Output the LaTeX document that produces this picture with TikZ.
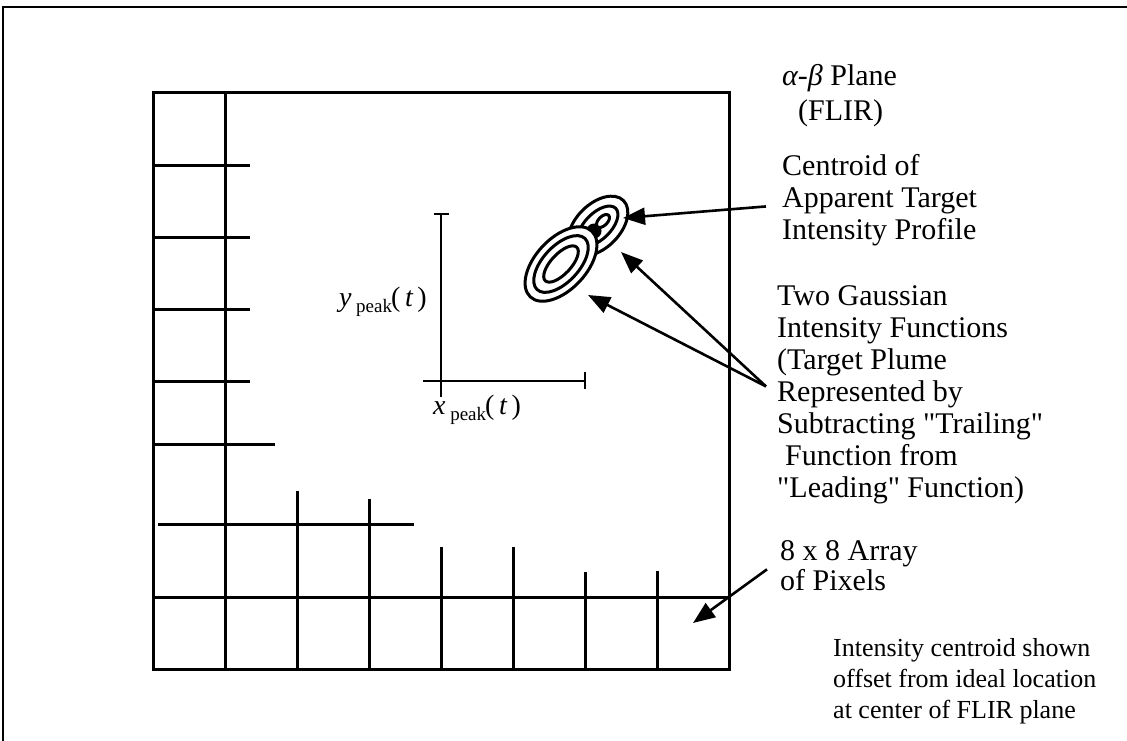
\documentclass[tikz,border=0pt]{standalone}
\usepackage{fontspec}
\newfontfamily\tnr{Liberation Serif}
\usetikzlibrary{arrows.meta}
\begin{document}
\begin{tikzpicture}[x=1pt,y=-1pt,
  frame/.style={line width=2pt},
  gridline/.style={line width=3pt},
  axisline/.style={line width=2.6pt},
  ring/.style={line width=3pt},
  ptr/.style={line width=2.6pt,-{Triangle[length=22pt,width=17pt]}},
  lbl/.style={font=\tnr\fontsize{30}{32}\selectfont, align=left, inner sep=0pt, anchor=north west},
  notetext/.style={font=\tnr\fontsize{26}{31}\selectfont, align=left, inner sep=0pt, anchor=north west},
  axlabel/.style={font=\tnr\fontsize{28}{28}\selectfont, inner sep=0pt},
]
\useasboundingbox (0,0) rectangle (1127,741);
% outer frame (top and left edges)
\draw[frame] (3,741) -- (3,7) -- (1127,7);
% pixel array
\draw[gridline] (153,93) rectangle (729,669);
\draw[gridline] (225,93) -- (225,669);
\foreach \yy in {165,237,309,381} \draw[gridline] (153,\yy) -- (250,\yy);
\draw[gridline] (153,444) -- (275,444);
\draw[gridline] (158,524) -- (414,524);
\draw[gridline] (297,491) -- (297,669);
\draw[gridline] (369,499) -- (369,669);
\draw[gridline] (153,597) -- (729,597);
\draw[gridline] (441,547) -- (441,669);
\draw[gridline] (513,547) -- (513,669);
\draw[gridline] (585,572) -- (585,669);
\draw[gridline] (657,571) -- (657,669);
% axes
\draw[axisline] (441,214) -- (441,397);
\draw[axisline] (434,214) -- (449,214);
\draw[axisline] (423,381) -- (585,381);
\draw[axisline] (585,372) -- (585,389);
\node[axlabel, anchor=base east] (ylab) at (427,306)
  {{\itshape y}\,\raisebox{-6pt}{\fontsize{19}{19}\selectfont peak}\kern-1pt(\,{\itshape t}\,)};
\node[axlabel, anchor=base west] (xlab) at (433,414)
  {{\itshape x}\,\raisebox{-6pt}{\fontsize{19}{19}\selectfont peak}\kern-1pt(\,{\itshape t}\,)};
% leading Gaussian (upper)
\begin{scope}[rotate around={45:(598,226)}]
\draw[ring, fill=white] (598,226) ellipse [x radius=36pt, y radius=22pt];
\draw[ring] (598,226) ellipse [x radius=25pt, y radius=13pt];
\end{scope}
\fill (594,231) circle [radius=7.5pt];
\begin{scope}[rotate around={45:(603,221)}]
\draw[ring, fill=white] (603,221) ellipse [x radius=8pt, y radius=4.5pt];
\end{scope}
% trailing Gaussian (lower)
\begin{scope}[rotate around={47:(561,264)}]
\draw[ring, fill=white] (561,264) ellipse [x radius=45pt, y radius=25.5pt];
\draw[ring] (561,264) ellipse [x radius=35pt, y radius=18pt];
\draw[ring] (561,264) ellipse [x radius=23pt, y radius=10pt];
\end{scope}
\coordinate (tipC) at (623,218);
\coordinate (tipA) at (621,252);
\coordinate (tipB) at (588,295);
\coordinate (tipP) at (693,623);
% texts
\node[lbl] (plane) at (782,61)
  {\rule{0pt}{24pt}{\itshape α}-{\itshape β} Plane\\[3pt]\hspace{16pt}(FLIR)};
\node[lbl] (cent) at (782,151)
  {\rule{0pt}{24pt}Centroid of\\Apparent Target\\Intensity Profile};
\node[lbl] (gauss) at (777,281)
  {\rule{0pt}{24pt}Two Gaussian\\Intensity Functions\\(Target Plume\\Represented by\\Subtracting "Trailing"\\\hspace{8pt}Function from\\"Leading" Function)};
\node[lbl] (arr) at (780,536)
  {\rule{0pt}{24pt}8 x 8 Array\\[-2pt]of Pixels};
\node[notetext] (note) at (833,632)
  {\rule{0pt}{24pt}Intensity centroid shown\\offset from ideal location\\at center of FLIR plane};
% pointers
\draw[ptr] ([xshift=-16pt,yshift=-8pt]cent.west) -- (tipC);
\draw[ptr] ([xshift=-11pt,yshift=6pt]gauss.west) -- (tipA);
\draw[ptr] ([xshift=-11pt,yshift=6pt]gauss.west) -- (tipB);
\draw[ptr] ([xshift=-13pt,yshift=-6pt]arr.west) -- (tipP);
\end{tikzpicture}
\end{document}
